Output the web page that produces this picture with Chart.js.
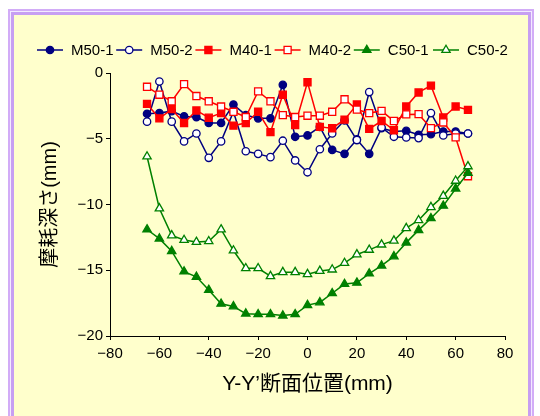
<!DOCTYPE html>
<html>
<head>
<meta charset="utf-8">
<script src="https://cdn.jsdelivr.net/npm/chart.js@4/dist/chart.umd.min.js"></script>
<style>
  html, body { margin: 0; padding: 0; background: #fff; }
  #wrap { position: relative; width: 540px; height: 416px; overflow: hidden; }
  .frame { position: absolute; left: 8px; top: 9px; width: 526px; height: 440px;
           box-sizing: border-box; border: 2px solid #d2acf7; background: #f3eaff; padding: 1px; }
  .inner { width: 100%; height: 100%; box-sizing: border-box;
           border: 3px solid #c79ff2; background: #ffffcc; }
  canvas { position: absolute; left: 0; top: 0; }
</style>
</head>
<body>
<div id="wrap">
  <div class="frame"><div class="inner"></div></div>
  <canvas id="wearChart" width="540" height="416"></canvas>
</div>
<script>
// section positions (mm)
const positions = [-65, -60, -55, -50, -45, -40, -35, -30, -25, -20, -15, -10, -5, 0,
                   5, 10, 15, 20, 25, 30, 35, 40, 45, 50, 55, 60, 65];

// wear depth (mm)
const m50_1 = [-3.1, -3.05, -2.9, -3.3, -3.35, -3.8, -3.8, -2.4, -3.2, -3.45, -3.45, -0.9, -4.85, -4.75,
               -4.1, -5.85, -6.15, -5.05, -6.15, -4.2, -4.45, -4.4, -4.7, -4.65, -4.45, -4.45, -4.6];
const m50_2 = [-3.7, -0.65, -3.7, -5.2, -4.6, -6.45, -5.2, -2.95, -5.95, -6.15, -6.4, -5.15, -6.65, -7.55,
               -5.8, -4.6, -3.6, -5.1, -1.45, -4.15, -4.85, -4.9, -4.95, -3.05, -4.75, -4.6, -4.6];
const m40_1 = [-2.35, -3.45, -2.75, -3.8, -2.85, -3.4, -3.05, -4.0, -3.8, -2.95, -4.5, -1.65, -3.95, -0.7,
               -4.1, -4.2, -3.55, -2.4, -4.25, -3.65, -4.35, -2.55, -1.48, -0.96, -3.38, -2.55, -2.8];
const m40_2 = [-1.05, -1.65, -2.15, -0.85, -1.75, -2.15, -2.55, -2.95, -3.35, -1.4, -2.15, -3.2, -3.35, -3.25,
               -3.25, -2.95, -2.0, -2.78, -3.05, -2.88, -3.65, -3.15, -3.13, -4.19, -3.76, -4.9, -7.85];
const c50_1 = [-11.9, -12.6, -13.55, -15.1, -15.5, -16.5, -17.55, -17.75, -18.3, -18.35, -18.35, -18.45, -18.35, -17.65,
               -17.45, -16.75, -16.05, -15.95, -15.25, -14.65, -13.95, -12.9, -11.95, -11.05, -10.1, -8.8, -7.6];
const c50_2 = [-6.35, -10.3, -12.35, -12.7, -12.85, -12.8, -11.9, -13.5, -14.85, -14.85, -15.45, -15.15, -15.15, -15.3,
               -15.05, -14.95, -14.45, -13.8, -13.45, -13.05, -12.75, -11.8, -11.2, -10.2, -9.35, -8.2, -7.1];

const seriesNames = ["M50-1", "M50-2", "M40-1", "M40-2", "C50-1", "C50-2"];
const seriesValues = [m50_1, m50_2, m40_1, m40_2, c50_1, c50_2];

const xTicks = [-80, -60, -40, -20, 0, 20, 40, 60, 80];
const yTicks = [-20, -15, -10, -5, 0];

const NAVY = "#000080", RED = "#ff0000", GREEN = "#008000";
const FONT = '"Liberation Sans", "Noto Sans CJK JP", sans-serif';

// colour, marker, open?
const styles = [
  { color: NAVY,  shape: "circle",   r: 3.7, open: false },
  { color: NAVY,  shape: "circle",   r: 3.7, open: true },
  { color: RED,   shape: "rect",     r: 5,   open: false },
  { color: RED,   shape: "rect",     r: 5,   open: true },
  { color: GREEN, shape: "triangle", r: 4.8, open: false },
  { color: GREEN, shape: "triangle", r: 4.8, open: true }
];

const datasets = seriesNames.map((name, i) => {
  const s = styles[i];
  return {
    label: name,
    data: positions.map((x, j) => ({ x: x, y: seriesValues[i][j] })),
    borderColor: s.color,
    borderWidth: 1.5,
    pointStyle: s.shape,
    pointRadius: s.r,
    pointBorderWidth: 1.3,
    pointBorderColor: s.color,
    pointBackgroundColor: s.open ? "#ffffff" : s.color,
    fill: false,
    tension: 0,
    order: seriesNames.length - i   // later series drawn on top
  };
});

// small marker drawer for the legend
function drawMarker(ctx, s, x, y) {
  ctx.save();
  ctx.beginPath();
  if (s.shape === "circle") {
    ctx.arc(x, y, s.r, 0, Math.PI * 2);
  } else if (s.shape === "rect") {
    const h = s.r * Math.SQRT1_2;
    ctx.rect(x - h, y - h, h * 2, h * 2);
  } else {
    let a = 0;
    ctx.moveTo(x + Math.sin(a) * s.r, y - Math.cos(a) * s.r);
    a += Math.PI * 2 / 3;
    ctx.lineTo(x + Math.sin(a) * s.r, y - Math.cos(a) * s.r);
    a += Math.PI * 2 / 3;
    ctx.lineTo(x + Math.sin(a) * s.r, y - Math.cos(a) * s.r);
    ctx.closePath();
  }
  ctx.fillStyle = s.open ? "#ffffff" : s.color;
  ctx.strokeStyle = s.color;
  ctx.lineWidth = 1.3;
  ctx.fill();
  ctx.stroke();
  ctx.restore();
}

// legend row: line + marker + label
const lineLegend = {
  id: "lineLegend",
  afterDraw(chart) {
    const ctx = chart.ctx;
    const y = 50;
    ctx.save();
    ctx.font = "15px " + FONT;
    ctx.textAlign = "left";
    ctx.textBaseline = "middle";
    seriesNames.forEach((name, i) => {
      const s = styles[i];
      const x0 = 37 + i * 79.2;
      ctx.beginPath();
      ctx.moveTo(x0, y);
      ctx.lineTo(x0 + 26, y);
      ctx.strokeStyle = s.color;
      ctx.lineWidth = 1.5;
      ctx.stroke();
      drawMarker(ctx, s, x0 + 13, y);
      ctx.fillStyle = "#000";
      ctx.fillText(name, x0 + 34, y + 1);
    });
    ctx.restore();
  }
};

const minus = v => (v < 0 ? "\u2212" + Math.abs(v) : String(v));

new Chart(document.getElementById("wearChart"), {
  type: "line",
  data: { datasets },
  options: {
    responsive: false,
    animation: false,
    layout: { padding: { top: 73, right: 35, bottom: 0, left: 0 } },
    plugins: { legend: { display: false }, tooltip: { enabled: false } },
    scales: {
      x: {
        type: "linear",
        min: xTicks[0],
        max: xTicks[xTicks.length - 1],
        afterBuildTicks: scale => { scale.ticks = xTicks.map(v => ({ value: v })); },
        afterFit: scale => { scale.height = 80; },
        border: { display: true, color: "#000", width: 1 },
        grid: { drawOnChartArea: false, drawTicks: true, tickLength: 4, tickColor: "#000" },
        ticks: { color: "#000", font: { family: FONT, size: 15 }, padding: 5, maxRotation: 0,
                 callback: v => minus(v) },
        title: { display: true, text: "Y-Y’断面位置(mm)", color: "#000",
                 font: { family: FONT, size: 21 }, padding: { top: 0, bottom: 19 } }
      },
      y: {
        min: yTicks[0],
        max: yTicks[yTicks.length - 1],
        afterBuildTicks: scale => { scale.ticks = yTicks.map(v => ({ value: v })); },
        afterFit: scale => { scale.width = 110; },
        border: { display: true, color: "#000", width: 1 },
        grid: { drawOnChartArea: false, drawTicks: true, tickLength: 4, tickColor: "#000" },
        ticks: { color: "#000", font: { family: FONT, size: 15 }, padding: 3,
                 callback: v => minus(v) },
        title: { display: true, text: "摩耗深さ(mm)", color: "#000",
                 font: { family: FONT, size: 20 }, padding: { top: 38, bottom: 0 } }
      }
    }
  },
  plugins: [lineLegend]
});
</script>
</body>
</html>
